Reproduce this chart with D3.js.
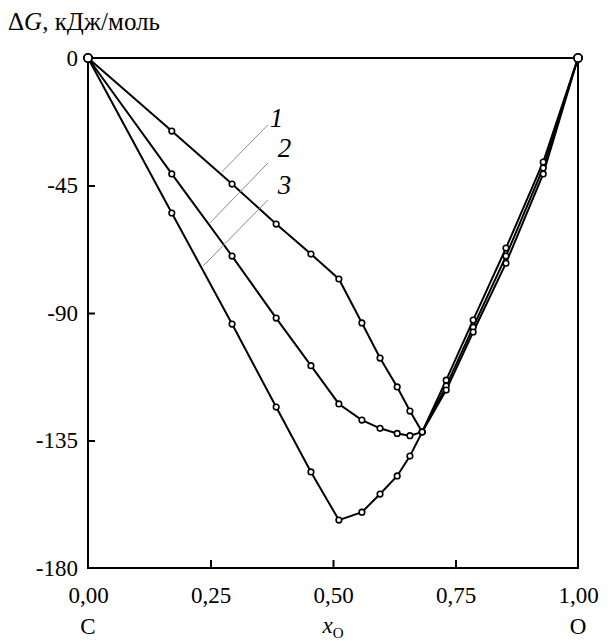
<!DOCTYPE html>
<html>
<head>
<meta charset="utf-8">
<script src="https://cdn.jsdelivr.net/npm/d3@7"></script>
<style>
  body { margin: 0; background: #fff; }
  svg { display: block; font-family: "Liberation Serif", "Times New Roman", serif; }
</style>
</head>
<body>
<div id="chart"></div>
<script>
let width = 612;
let height = 641;

// mole fraction of oxygen and Gibbs energy (kJ/mol) for curves 1-3
const xO = [0, 0.171, 0.294, 0.384, 0.455, 0.512, 0.559, 0.596, 0.631, 0.657, 0.682, 0.731, 0.786, 0.853, 0.929, 1];
const g1 = [0, -25.8, -44.5, -58.6, -69.2, -78.0, -93.5, -105.9, -116.1, -124.6, -132.0, -113.7, -92.5, -67.1, -36.7, 0];
const g2 = [0, -40.9, -69.9, -91.8, -108.6, -122.1, -127.8, -130.7, -132.5, -133.3, -132.0, -115.8, -95.0, -69.9, -38.8, 0];
const g3 = [0, -54.7, -93.9, -123.2, -146.1, -163.1, -160.3, -153.9, -147.5, -140.5, -132.0, -117.2, -96.7, -72.4, -40.9, 0];
const curveNames = ["1", "2", "3"];

const xTicks = [0, 0.25, 0.5, 0.75, 1];
const yTicks = [0, -45, -90, -135, -180];

// label leader lines: [x from, y from, x to, y to] in data units
const leaders = [
  [0.367, -23.6, 0.273, -40.2],
  [0.367, -37.1, 0.249, -58.2],
  [0.367, -50.1, 0.235, -73.4],
];

let x = d3.scaleLinear().domain([0, 1]).range([88, 578]);
let y = d3.scaleLinear().domain([-180, 0]).range([568, 58]);

let svg = d3
  .select("#chart")
  .append("svg")
  .attr("width", width)
  .attr("height", height);

// frame
svg.append("rect")
  .attr("x", x(0))
  .attr("y", y(0))
  .attr("width", x(1) - x(0))
  .attr("height", y(-180) - y(0))
  .attr("fill", "none")
  .attr("stroke", "#000")
  .attr("stroke-width", 2);

let fmt = (d) => d3.format(".2f")(d).replace(".", ",");

let xAxis = svg.append("g")
  .attr("transform", "translate(0," + y(-180) + ")")
  .call(d3.axisBottom(x).tickValues(xTicks).tickFormat(fmt).tickSize(-8).tickPadding(19));
let yAxis = svg.append("g")
  .attr("transform", "translate(" + x(0) + ",0)")
  .call(d3.axisLeft(y).tickValues(yTicks).tickFormat(d3.format("d")).tickSize(-7).tickPadding(10));

[xAxis, yAxis].forEach((a) => {
  a.select(".domain").remove();
  a.selectAll(".tick line").attr("stroke", "#000").attr("stroke-width", 2);
  a.selectAll(".tick text")
    .attr("font-family", "Liberation Serif, serif")
    .attr("font-size", 23)
    .attr("fill", "#000");
});
xAxis.selectAll(".tick line").filter((d) => d === 0 || d === 1).remove();
yAxis.selectAll(".tick line").filter((d) => d === 0 || d === -180).remove();
yAxis.selectAll(".tick text").text((d) => (d < 0 ? "-" + Math.abs(d) : d));

// curves
let line = d3.line().x((d) => x(d[0])).y((d) => y(d[1]));
let series = [g1, g2, g3].map((g) => xO.map((v, i) => [v, g[i]]));

series.forEach((s) => {
  svg.append("path")
    .datum(s)
    .attr("d", line)
    .attr("fill", "none")
    .attr("stroke", "#000")
    .attr("stroke-width", 2);
});
series.forEach((s) => {
  svg.append("g")
    .selectAll("circle")
    .data(s)
    .enter()
    .append("circle")
    .attr("cx", (d) => x(d[0]))
    .attr("cy", (d) => y(d[1]))
    .attr("r", (d) => (d[0] === 0 || d[0] === 1 ? 4 : 2.8))
    .attr("fill", "#fff")
    .attr("stroke", "#000")
    .attr("stroke-width", 1.6);
});

// curve labels
svg.append("g")
  .selectAll("line")
  .data(leaders)
  .enter()
  .append("line")
  .attr("x1", (d) => x(d[0]))
  .attr("y1", (d) => y(d[1]))
  .attr("x2", (d) => x(d[2]))
  .attr("y2", (d) => y(d[3]))
  .attr("stroke", "#8a8a8a")
  .attr("stroke-width", 1);

svg.append("g")
  .selectAll("text")
  .data(curveNames)
  .enter()
  .append("text")
  .attr("x", (d, i) => x(leaders[i][0]) + (i === 0 ? 2 : 10))
  .attr("y", (d, i) => y(leaders[i][1]) + 2 - (i === 0 ? 0 : 8))
  .attr("font-size", 27)
  .attr("font-style", "italic")
  .text((d) => d);

// axis titles
let title = svg.append("text")
  .attr("x", 8)
  .attr("y", 30)
  .attr("font-size", 25);
title.append("tspan").text("Δ");
title.append("tspan").attr("font-style", "italic").text("G");
title.append("tspan").text(", кДж/моль");

svg.append("text")
  .attr("x", x(0))
  .attr("y", 634)
  .attr("text-anchor", "middle")
  .attr("font-size", 23)
  .text("C");
svg.append("text")
  .attr("x", x(1))
  .attr("y", 634)
  .attr("text-anchor", "middle")
  .attr("font-size", 23)
  .text("O");

let xt = svg.append("text")
  .attr("x", x(0.5))
  .attr("y", 633)
  .attr("text-anchor", "middle")
  .attr("font-size", 23);
xt.append("tspan").attr("font-style", "italic").text("x");
xt.append("tspan").attr("font-size", 15).attr("dy", 5).text("O");
</script>
</body>
</html>
